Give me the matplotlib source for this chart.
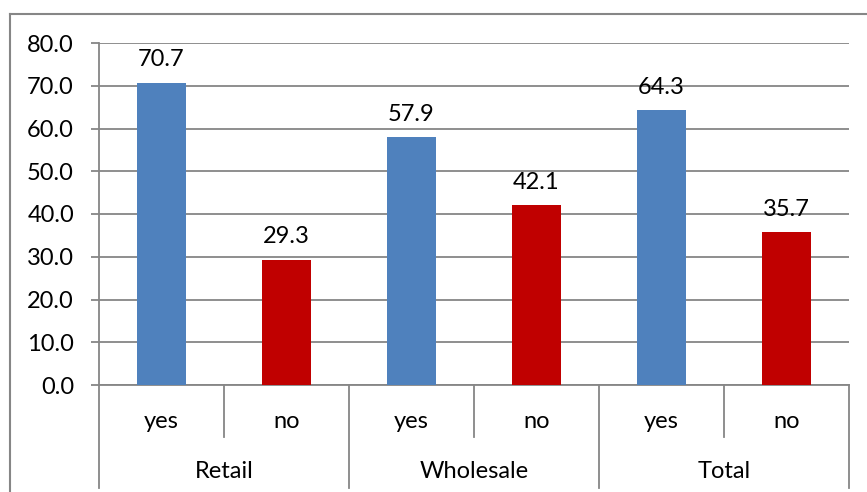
import matplotlib
matplotlib.use("Agg")
import matplotlib.pyplot as plt
from matplotlib.lines import Line2D

# Data
groups = ["Retail", "Wholesale", "Total"]
answers = ["yes", "no"]
values = [70.7, 29.3, 57.9, 42.1, 64.3, 35.7]
colors = ["#4F81BD", "#C00000"]

plt.rcParams["font.family"] = ["Lato", "DejaVu Sans"]
FS = 17

W, H = 867, 492
fig = plt.figure(figsize=(W / 100, H / 100), dpi=100)

# outer chart border (only left and top visible)
grey = "#868686"
fig.add_artist(Line2D([10 / W, 10 / W], [0, 1 - 14 / H], color=grey, lw=1.5))
fig.add_artist(Line2D([10 / W, 1], [1 - 14 / H, 1 - 14 / H], color=grey, lw=1.5))

x0, x1, y0, y1 = 99, 849, 385, 43
ax = fig.add_axes([x0 / W, 1 - y0 / H, (x1 - x0) / W, (y0 - y1) / H])

n = len(values)
xs = list(range(n))
bar_cols = [colors[i % 2] for i in range(n)]
ax.bar(xs, values, width=0.39, color=bar_cols, zorder=3)

for x, v in zip(xs, values):
    ax.annotate(f"{v:.1f}", (x, v), xytext=(0, 9), textcoords="offset points",
                ha="center", va="bottom", fontsize=FS)

ax.set_xlim(-0.5, n - 0.5)
ax.set_ylim(0, 80)
ax.set_yticks(range(0, 81, 10))
ax.set_yticklabels([f"{t:.1f}" for t in range(0, 81, 10)], fontsize=FS)
ax.yaxis.grid(True, color=grey, lw=1.3, zorder=0)
ax.tick_params(axis="y", length=6, width=1.3, color=grey, pad=12)
ax.set_xticks([])
for s in ["top", "right"]:
    ax.spines[s].set_visible(False)
ax.spines["left"].set_color(grey)
ax.spines["bottom"].set_color(grey)
ax.spines["left"].set_linewidth(1.3)
ax.spines["bottom"].set_linewidth(1.3)

# multi-level category axis
trans = ax.get_xaxis_transform()
h = y0 - y1
lvl1 = -(437 - y0) / h
lvl2 = -(488 - y0) / h
for b in [0.5, 2.5, 4.5]:
    ax.plot([b, b], [0, lvl1], transform=trans, color=grey, lw=1.3, clip_on=False)
for b in [-0.5, 1.5, 3.5, 5.5]:
    ax.plot([b, b], [0, lvl2], transform=trans, color=grey, lw=1.3, clip_on=False)

for i, x in enumerate(xs):
    ax.text(x, -(421 - y0) / h, answers[i % 2], transform=trans,
            ha="center", va="center", fontsize=FS)
for g, name in enumerate(groups):
    ax.text(2 * g + 0.5, -(472 - y0) / h, name, transform=trans,
            ha="center", va="center", fontsize=FS)

fig.savefig("out.png", dpi=100)
